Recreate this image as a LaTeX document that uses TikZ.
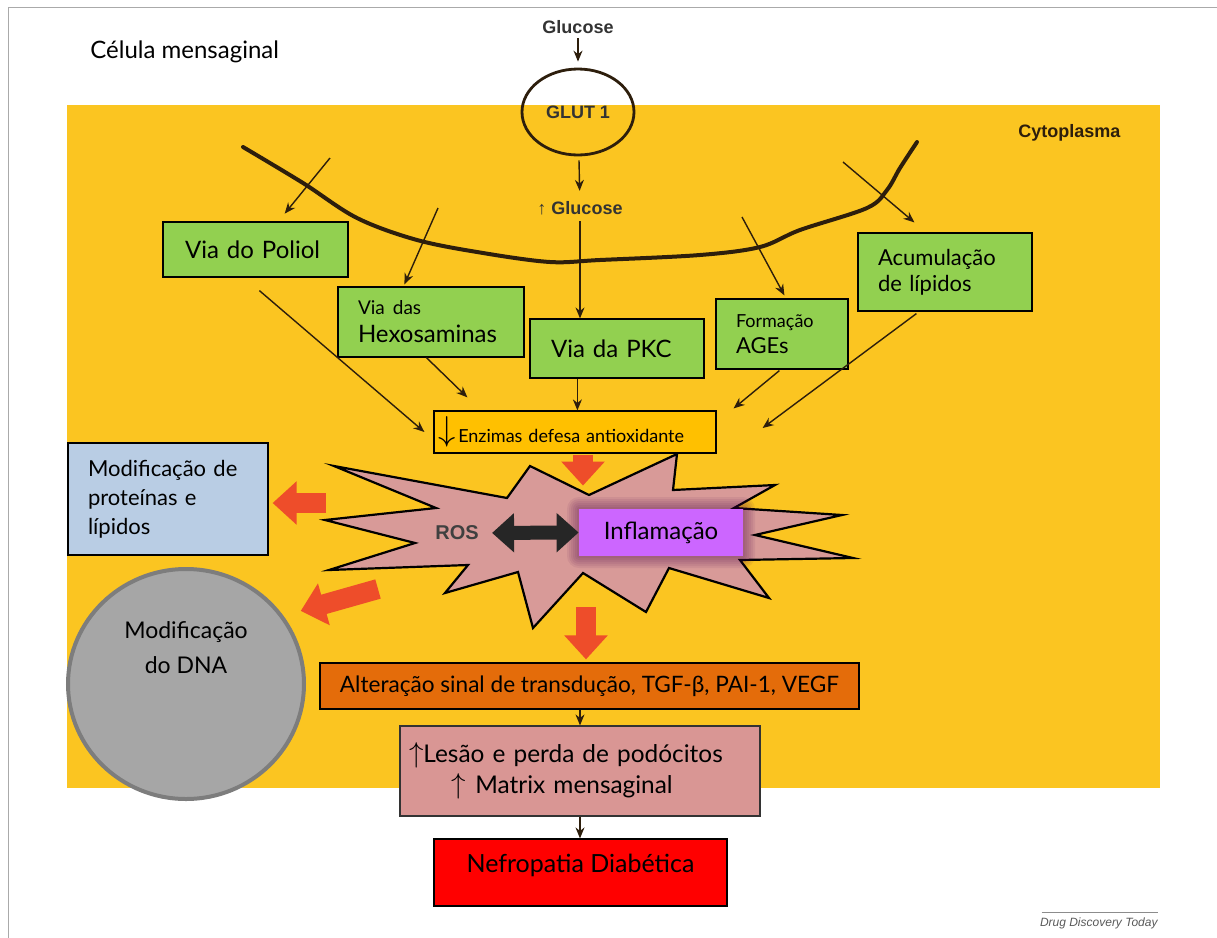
\documentclass[tikz,border=0pt]{standalone}
\usepackage{fontspec}
\setmainfont{Lato}
\newfontfamily\helv{Liberation Sans}
\usetikzlibrary{arrows.meta,calc,shapes.geometric}

\definecolor{cytoyellow}{RGB}{251,197,33}
\definecolor{viagreen}{RGB}{146,208,80}
\definecolor{enzorange}{RGB}{255,192,0}
\definecolor{burstpink}{RGB}{216,154,152}
\definecolor{inflpurple}{RGB}{204,102,255}
\definecolor{modblue}{RGB}{185,205,228}
\definecolor{dnagray}{RGB}{166,166,166}
\definecolor{dnaedge}{RGB}{125,125,125}
\definecolor{altorange}{RGB}{228,108,10}
\definecolor{lesaopink}{RGB}{217,150,148}
\definecolor{blockred}{RGB}{238,77,42}
\definecolor{membrown}{RGB}{45,30,12}
\definecolor{framegray}{RGB}{170,170,170}

\newcommand{\bigup}{{\fontsize{14.5}{14.5}\selectfont$\uparrow$}}
\newcommand{\bigdown}{{\fontsize{19}{16}\selectfont\raisebox{1pt}{$\downarrow$}}}

\tikzset{
  plainbox/.style={draw=black, line width=0.6pt, inner sep=0pt},
  viabox/.style={plainbox, fill=viagreen, align=left, font=\fontsize{12}{14}\selectfont},
  helvlabel/.style={font=\helv\bfseries\fontsize{9}{11}\selectfont, text=black!80, inner sep=0pt},
  thinarrow/.style={draw=membrown, line width=0.7pt, -{Stealth[length=5.5pt,width=4.5pt]}},
  blockarrow/.style={draw=blockred, line width=10pt, -{Triangle[length=12pt,width=21pt]}},
}

\begin{document}
\begin{tikzpicture}[x=0.5pt,y=-0.5pt]
\useasboundingbox (0,0) rectangle (1217,938);
\draw[framegray, line width=0.5pt] (1217,7) -- (8,7) -- (8,938);
\fill[cytoyellow] (67,105) rectangle (1160,788);

\node[anchor=base west, inner sep=0pt, font=\fontsize{12}{14}\selectfont] (celula) at (90,58) {Célula mensaginal};
\node[helvlabel, text=membrown, anchor=west] (cyto) at (1018,133) {Cytoplasma};

% membrana
\draw[membrown, line width=2pt, line cap=round, line join=round] plot[smooth, tension=0.55] coordinates {(243,147) (303,183) (357,218) (417,240) (483,253) (550,262) (600,260) (700,255) (760,247) (800,230) (867,208) (887,190) (900,168) (917,142)};

\node[helvlabel] (glucose) at (578,27) {Glucose};
\node[helvlabel, draw=membrown, line width=1.4pt, ellipse, minimum width=56pt, minimum height=43pt] (glut) at (578,112) {GLUT 1};
\node[helvlabel] (upgluc) at (580,208) {{\mdseries ↑} Glucose};

% vias
\node[viabox, minimum width=92.5pt, minimum height=27.5pt, text width=70.5pt, inner xsep=11pt] (poliol) at (255.5,249.5) {Via do Poliol};
\node[viabox, minimum width=93pt, minimum height=35pt, text width=73pt, inner xsep=10pt] (hexos) at (431,322) {{\fontsize{9.5}{11}\selectfont Via das}\\Hexosaminas};
\node[viabox, minimum width=87pt, minimum height=29.5pt, text width=66pt, inner xsep=10.5pt] (pkc) at (617,348.5) {Via da PKC};
\node[viabox, minimum width=66pt, minimum height=35pt, text width=46pt, inner xsep=10pt, font=\fontsize{11}{13}\selectfont] (ages) at (782,334) {{\fontsize{9}{11}\selectfont Formação}\\AGEs};
\node[viabox, minimum width=87pt, minimum height=39pt, text width=67pt, inner xsep=10pt, font=\fontsize{11}{13}\selectfont] (lipid) at (945,272) {Acumulação\\de lípidos};

\coordinate (poltail) at (330,158);
\coordinate (hextail) at (438,208);
\coordinate (agetail) at (742,217);
\coordinate (liptail) at (843,162);

\draw[thinarrow, shorten <=2pt, shorten >=3pt] (glucose) -- (glut);
\draw[thinarrow, shorten <=2pt, shorten >=5pt] (glut) -- (upgluc);
\draw[thinarrow, shorten <=3pt] (upgluc.south) -- (upgluc.south |- pkc.north);
\draw[thinarrow, shorten >=5pt] (poltail) -- (poliol);
\draw[thinarrow] (hextail) -- ($(hexos.north west)+(67,-2)$);
\draw[thinarrow] (agetail) -- ($(ages.north west)+(69,-3)$);
\draw[thinarrow] (liptail) -- ($(lipid.north west)+(57,-10)$);

% ROS
\draw[fill=burstpink, line width=1.1pt, line join=miter] (334,466) -- (507,498) -- (530,466) -- (589,495) -- (677,454) -- (673,490) -- (775,485) -- (734,508) -- (842,515) -- (755,535) -- (853,558) -- (740,560) -- (769,598) -- (669,568) -- (646,612) -- (583,573) -- (533,628) -- (518,572) -- (445,593) -- (468,565) -- (329,570) -- (415,543) -- (325,520) -- (436,508) -- cycle;

\node[plainbox, fill=enzorange, minimum width=141pt, minimum height=21pt, text width=137pt, inner xsep=2pt, align=left, font=\fontsize{9}{11}\selectfont] (enzimas) at (575,432) {\bigdown\,Enzimas defesa antioxidante};

\draw[thinarrow] ($(poliol.south west)+(97,13)$) -- ($(enzimas.west)+(-9,0)$);
\draw[thinarrow] ($(hexos.south west)+(89,0)$) -- ($(enzimas.north west)+(34,-13)$);
\draw[thinarrow] ($(pkc.south west)+(48,0)$) coordinate (pkcout) -- (pkcout |- enzimas.north);
\draw[thinarrow] ($(ages.south west)+(64,1)$) -- ($(enzimas.north east)+(17,-2)$);
\draw[thinarrow] ($(lipid.south west)+(59,2)$) -- ($(enzimas.east)+(46,-4)$);

% brilho da inflamacao
\foreach \g in {1,...,6}
  \fill[violet!55!black, opacity=0.07, rounded corners=\g pt] (579-2*\g,509-2*\g) rectangle (743+2*\g,556+2*\g);

\node[helvlabel, font=\helv\bfseries\fontsize{10}{12}\selectfont, text=black!75] (ros) at (457,533) {ROS};
\node[fill=inflpurple, minimum width=82pt, minimum height=23.5pt, inner sep=0pt, font=\fontsize{12}{14}\selectfont] (infl) at (661,532.5) {Inflamação};
\draw[draw=black!85, line width=7pt, {Triangle[length=11pt,width=19pt]}-{Triangle[length=11pt,width=19pt]}, shorten <=6.5pt] (ros.east) -- (infl.west);

% efeitos
\node[plainbox, fill=modblue, minimum width=100pt, minimum height=56pt, text width=80pt, inner xsep=10pt, align=left, font=\fontsize{11}{14.5}\selectfont] (modprot) at (168,499) {Modificação de\\proteínas e\\lípidos};
\node[ellipse, draw=dnaedge, line width=2pt, fill=dnagray, minimum width=118pt, minimum height=115pt, inner sep=0pt] (dna) at (186,684) {};
\node[align=center, font=\fontsize{11.5}{17.5}\selectfont] (dnatext) at (186,648) {Modificação\\do DNA};
\node[plainbox, fill=altorange, minimum width=269.5pt, minimum height=23pt, font=\fontsize{11.3}{14}\selectfont] (alter) at (589.5,686) {Alteração sinal de transdução, TGF-β, PAI-1, VEGF};
\node[plainbox, draw=black!80, fill=lesaopink, minimum width=180pt, minimum height=45pt, text width=171pt, inner xsep=4.5pt, align=left, font=\fontsize{12.2}{15.5}\selectfont] (lesao) at (580,771) {\bigup Lesão e perda de podócitos\\\hspace*{21pt}\bigup\hspace{5pt}Matrix mensaginal};
\node[plainbox, fill=red, minimum width=146.5pt, text height=16.5pt, text depth=17pt, inner ysep=0pt, font=\fontsize{12.5}{15}\selectfont] (nefro) at (580.5,872.5) {Nefropatia Diabética};

\coordinate (burstw) at (326,503);
\coordinate (burstsw) at (378,589);
\coordinate (bursts) at (586,607);
\draw[blockarrow] ($(enzimas.south)+(8,1)$) -- ++(0,31);
\draw[blockarrow, shorten >=2pt] (burstw) -- (modprot.east |- burstw);
\draw[blockarrow, shorten >=9pt] (burstsw) -- (dna.35);
\draw[blockarrow, shorten >=1.5pt] (bursts) -- (bursts |- alter.north);

\draw[thinarrow] (alter.south -| lesao.north) -- (lesao.north);
\draw[thinarrow] (lesao.south) -- (nefro.north -| lesao.south);

\node[anchor=base east, inner sep=0pt, font=\helv\itshape\fontsize{6}{7}\selectfont, text=black!65] (source) at (1158,926) {Drug Discovery Today};
\draw[black!45, line width=0.4pt] ($(source.north west)+(2,-5)$) -- ($(source.north east)+(0,-5)$);
\end{tikzpicture}
\end{document}
